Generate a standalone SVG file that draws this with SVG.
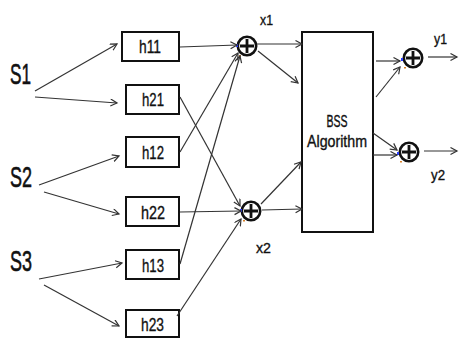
<svg xmlns="http://www.w3.org/2000/svg" width="459" height="338" viewBox="0 0 459 338">
  <defs>
    <marker id="arr" markerWidth="9" markerHeight="9" refX="7" refY="4" orient="auto" markerUnits="userSpaceOnUse">
      <path d="M0.5,0.5 L7,4 L0.5,7.5" fill="none" stroke="#333" stroke-width="1.2"/>
    </marker>
  </defs>
  <style>
    text { font-family: "Liberation Sans", Arial, sans-serif; fill: #111; stroke: #111; stroke-width: 0.35; }
    .src { font-size: 30px; stroke-width: 0.6; }
    .lbl { font-size: 18px; }
    .sig { font-size: 15px; }
    .blk { font-size: 16px; }
    .box { fill: #fff; stroke: #111; stroke-width: 2; }
    .sum circle { fill: #fff; stroke: #111; stroke-width: 2.6; }
    .sum path { stroke: #111; stroke-width: 2.8; fill: none; }
    .conn line { stroke: #333; stroke-width: 1.2; marker-end: url(#arr); }
    .pin-b { fill: #2a3cff; }
    .pin-o { fill: #d9822b; }
  </style>

  <rect width="459" height="338" fill="#fff"/>

  <!-- sources -->
  <g id="s1"><text class="src" x="10" y="84" textLength="21" lengthAdjust="spacingAndGlyphs">S1</text></g>
  <g id="s2"><text class="src" x="10" y="187" textLength="22" lengthAdjust="spacingAndGlyphs">S2</text></g>
  <g id="s3"><text class="src" x="10" y="271" textLength="22" lengthAdjust="spacingAndGlyphs">S3</text></g>

  <!-- channel filters -->
  <g id="h11"><rect class="box" x="122" y="32" width="57" height="29"/><text class="lbl" x="139" y="53" textLength="22" lengthAdjust="spacingAndGlyphs">h11</text></g>
  <g id="h21"><rect class="box" x="126" y="85" width="53" height="29"/><text class="lbl" x="142" y="106" textLength="22" lengthAdjust="spacingAndGlyphs">h21</text></g>
  <g id="h12"><rect class="box" x="126" y="137" width="53" height="30"/><text class="lbl" x="142" y="159" textLength="22" lengthAdjust="spacingAndGlyphs">h12</text></g>
  <g id="h22"><rect class="box" x="126" y="197" width="53" height="29"/><text class="lbl" x="141" y="219" textLength="24" lengthAdjust="spacingAndGlyphs">h22</text></g>
  <g id="h13"><rect class="box" x="126" y="250" width="53" height="29"/><text class="lbl" x="142" y="272" textLength="22" lengthAdjust="spacingAndGlyphs">h13</text></g>
  <g id="h23"><rect class="box" x="126" y="310" width="53" height="27"/><text class="lbl" x="141" y="331" textLength="23" lengthAdjust="spacingAndGlyphs">h23</text></g>

  <!-- mixing sums -->
  <g id="sum-x1" class="sum"><circle cx="247" cy="46" r="9.2"/><path d="M247,39 V53 M240,46 H254"/><rect class="pin-b" x="236" y="44" width="2" height="3"/><rect class="pin-o" x="239" y="55" width="2" height="1.5"/></g>
  <g id="sum-x2" class="sum"><circle cx="251" cy="211" r="9.2"/><path d="M251,204 V218 M244,211 H258"/><rect class="pin-b" x="240" y="209" width="2" height="3"/><rect class="pin-o" x="243" y="220" width="2" height="1.5"/></g>
  <g id="lbl-x1"><text class="sig" x="260" y="25" textLength="13" lengthAdjust="spacingAndGlyphs">x1</text></g>
  <g id="lbl-x2"><text class="sig" x="256" y="253" textLength="15" lengthAdjust="spacingAndGlyphs">x2</text></g>

  <!-- separation block -->
  <g id="bss">
    <rect class="box" x="302" y="32" width="71" height="200"/>
    <text class="blk" x="337" y="127" text-anchor="middle" textLength="21" lengthAdjust="spacingAndGlyphs">BSS</text>
    <text class="blk" x="337" y="147" text-anchor="middle" textLength="60" lengthAdjust="spacingAndGlyphs">Algorithm</text>
  </g>

  <!-- output sums -->
  <g id="sum-y1" class="sum"><circle cx="413" cy="58" r="9.2"/><path d="M413,51 V65 M406,58 H420"/><rect class="pin-b" x="401" y="58" width="2" height="3"/><rect class="pin-o" x="404" y="67" width="2" height="1.5"/></g>
  <g id="sum-y2" class="sum"><circle cx="409" cy="152" r="9.2"/><path d="M409,145 V159 M402,152 H416"/><rect class="pin-b" x="397" y="152" width="2" height="3"/><rect class="pin-o" x="400" y="161" width="2" height="1.5"/></g>
  <g id="lbl-y1"><text class="sig" x="434" y="44" textLength="13" lengthAdjust="spacingAndGlyphs">y1</text></g>
  <g id="lbl-y2"><text class="sig" x="431" y="180" textLength="14" lengthAdjust="spacingAndGlyphs">y2</text></g>

  <!-- connectors -->
  <g id="connectors" class="conn">
    <line x1="35" y1="91" x2="117" y2="44"/>
    <line x1="35" y1="97" x2="117" y2="103"/>
    <line x1="39" y1="185" x2="119" y2="156"/>
    <line x1="44" y1="192" x2="119" y2="214"/>
    <line x1="39" y1="279" x2="122" y2="263"/>
    <line x1="44" y1="285" x2="119" y2="326"/>

    <line x1="180" y1="47" x2="237" y2="45"/>
    <line x1="180" y1="152" x2="238" y2="53"/>
    <line x1="180" y1="264" x2="240" y2="56"/>
    <line x1="180" y1="97" x2="240" y2="206"/>
    <line x1="180" y1="212" x2="241" y2="211"/>
    <line x1="177" y1="316" x2="241" y2="219"/>

    <line x1="257" y1="44" x2="302" y2="44"/>
    <line x1="258" y1="51" x2="298" y2="83"/>
    <line x1="262" y1="210" x2="302" y2="209"/>
    <line x1="261" y1="204" x2="301" y2="162"/>

    <line x1="376" y1="61" x2="400" y2="61"/>
    <line x1="376" y1="97" x2="400" y2="67"/>
    <line x1="373" y1="133" x2="397" y2="150"/>
    <line x1="373" y1="155" x2="397" y2="155"/>

    <line x1="428" y1="57" x2="457" y2="57"/>
    <line x1="424" y1="151" x2="457" y2="151"/>
  </g>
</svg>
